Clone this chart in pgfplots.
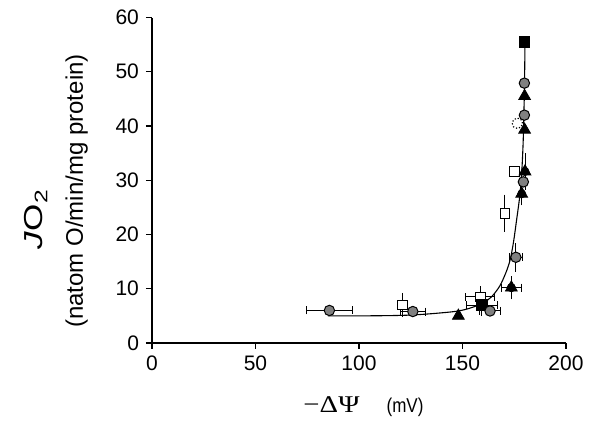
\documentclass[border=0pt]{standalone}
\usepackage{fontspec}
\setmainfont{Liberation Sans}
\newfontfamily\serif{Liberation Serif}
\usepackage{graphicx}
\usepackage{pgfplots}
\pgfplotsset{compat=1.18}

% error bars only (no marks), drawn first
\pgfplotstableread{
x      y     ex
85.7   6.0   11
126.0  5.8   6
163.3  5.9   5
175.8  15.8  3.2
158.6  8.5   7
175.2  31.6  2
173.6  10.2  4.8
179.9  55.5  1.5
159.3  7.0   7.5
}\xerrs
\pgfplotstableread{
x      y     ey
175.8  15.8  1.9
179.9  47.9  2.5
121.0  7.0   1.5
158.6  8.5   1.2
170.5  23.9  2.7
173.6  10.2  1.4
178.6  27.5  1.4
180.2  31.6  2.6
159.3  7.0   1.3
}\yerrs

\begin{document}
\begin{tikzpicture}
\useasboundingbox (-76pt,-39.5pt) rectangle (218.5pt,171.5pt);
\begin{axis}[
  scale only axis,
  width=207pt, height=162.75pt,
  xmin=0, xmax=200, ymin=0, ymax=60,
  axis x line*=bottom, axis y line*=left,
  axis line style={black, line width=0.6pt},
  xtick={0,50,...,200}, ytick={0,10,...,60},
  tick align=outside, major tick length=3pt,
  tick style={black, line width=0.6pt},
  ticklabel style={font=\fontsize{10.5}{12}\selectfont},
  /pgf/number format/assume math mode=true,
  clip=false,
]
% fitted curve
\addplot[black, line width=0.55pt, smooth, no marks] coordinates {
  (85,5.0) (100,5.0) (115,5.05) (125,5.15) (135,5.4) (145,5.75) (150,6.05)
  (155,6.6) (160,7.4) (164,8.5) (168,10.5) (171,13.0) (173,15.3) (174.6,18.5)
  (176,22.3) (177.8,27.5) (178.7,32) (179.3,37) (179.7,43) (180.0,49) (180.2,55.5)
};
\addplot[black, only marks, mark=none,
  error bars/.cd, x dir=both, x explicit, error mark=|,
  error bar style={black, solid, line width=0.5pt},
  error mark options={black, solid, line width=0.5pt, mark size=2pt}]
  table[x=x, y=y, x error=ex] {\xerrs};
\addplot[black, only marks, mark=none,
  error bars/.cd, y dir=both, y explicit, error mark=-,
  error bar style={black, solid, line width=0.5pt},
  error mark options={black, solid, line width=0.5pt, mark size=2pt}]
  table[x=x, y=y, y error=ey] {\yerrs};
% open squares
\addplot[only marks, mark=square*, mark size=2.4pt,
  mark options={fill=white, draw=black, line width=0.5pt}] coordinates {
  (121.0,7.0) (158.6,8.5) (170.5,23.9) (175.2,31.6)
};
% dotted open circle
\addplot[only marks, mark=*, mark size=2.6pt,
  mark options={fill=white, draw=black, densely dotted, line width=0.6pt}] coordinates {
  (176.5,40.5)
};
% black squares
\addplot[only marks, mark=square*, mark size=2.6pt,
  mark options={fill=black, draw=black}] coordinates {
  (179.9,55.5) (159.3,7.0)
};
% gray circles
\addplot[only marks, mark=*, mark size=2.6pt,
  mark options={fill=gray, draw=black, line width=0.5pt}] coordinates {
  (85.7,6.0) (126.0,5.8) (163.3,5.9) (175.8,15.8) (179.4,29.7) (179.9,42.0) (179.9,47.9)
};
% black triangles
\addplot[only marks, mark=triangle*, mark size=3.4pt,
  mark options={fill=black, draw=black}] coordinates {
  (148.0,5.0) (173.6,10.2) (178.6,27.5) (180.2,31.6) (180.0,39.3) (180.0,45.5)
};
\end{axis}
\node[rotate=90] at (-58pt,62pt)
  {\scalebox{1.35}[1]{\fontsize{13}{15}\selectfont\textit{J}O\textsubscript{2}}};
\node[rotate=90, font=\fontsize{12}{14}\selectfont] at (-37.7pt,76pt)
  {(natom O/min/mg protein)};
\node[anchor=base] at (89.75pt,-35pt)
  {\scalebox{1.2}[1]{\fontsize{12}{14}\selectfont\serif −ΔΨ}};
\node[anchor=base] at (126.5pt,-35pt)
  {\scalebox{0.85}[1]{\fontsize{10}{12}\selectfont (mV)}};
\end{tikzpicture}
\end{document}
